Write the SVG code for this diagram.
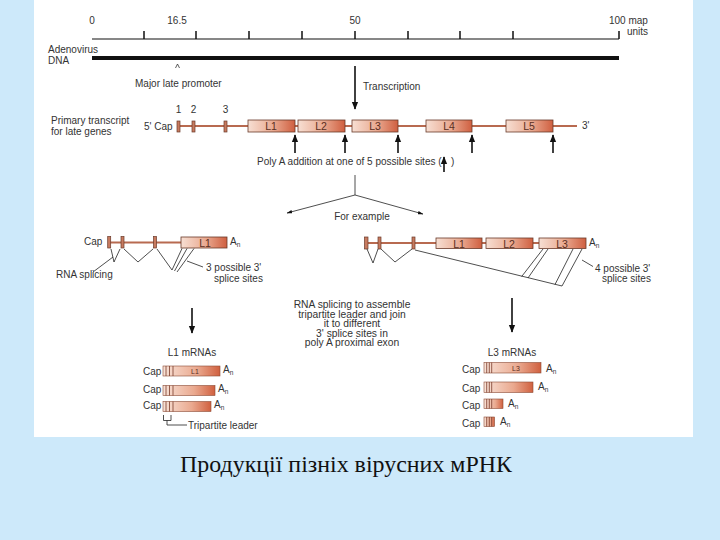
<svg xmlns="http://www.w3.org/2000/svg" width="720" height="540" viewBox="0 0 720 540">
<style>
.t{font-family:"Liberation Sans",Arial,sans-serif;font-size:10px;fill:#333}
.c{text-anchor:middle}
.n{font-size:10.3px}
.bl{font-family:"Liberation Sans",Arial,sans-serif;font-size:10.5px;fill:#5a2e22;text-anchor:middle}
.sl{font-family:"Liberation Sans",Arial,sans-serif;font-size:7px;fill:#5a2e22;text-anchor:middle}
.sub{font-size:6.5px}
.box{fill:url(#g);stroke:#6a3a2a;stroke-width:0.8}
.mb{fill:url(#g2);stroke:#8a4a35;stroke-width:0.6}
.ex{fill:#c77a5f;stroke:#6a3a2a;stroke-width:0.7}
.tr{stroke:#b86a50;stroke-width:2;fill:none}
.ln{stroke:#222;stroke-width:0.8;fill:none}
.ar{stroke:#111;stroke-width:1.6;fill:none}
.st{stroke:#7a3a28;stroke-width:0.8}
</style>
<defs>
<linearGradient id="g" x1="0" x2="1" y1="0" y2="0"><stop offset="0" stop-color="#f7dfd3"/><stop offset="0.55" stop-color="#e9a88f"/><stop offset="1" stop-color="#cf5f40"/></linearGradient>
<linearGradient id="g2" x1="0" x2="1" y1="0" y2="0"><stop offset="0" stop-color="#f8e2d7"/><stop offset="0.6" stop-color="#eaa98f"/><stop offset="1" stop-color="#d0603f"/></linearGradient>
<marker id="ah" viewBox="0 0 10 10" refX="9" refY="5" markerWidth="5" markerHeight="5" orient="auto"><path d="M0,1 L10,5 L0,9 z" fill="#111"/></marker>
<marker id="ahs" viewBox="0 0 10 10" refX="9" refY="5" markerWidth="7" markerHeight="7" orient="auto"><path d="M0,2 L10,5 L0,8 z" fill="#111"/></marker>
</defs>
<rect width="720" height="540" fill="#cde9fa"/>
<rect x="34" y="0" width="659" height="437" fill="#fff"/>

<g id="ruler">
<line x1="92" y1="39" x2="619" y2="39" stroke="#111" stroke-width="1.2"/>
<path d="M144,31V39M196,31V39M249,31V39M302,31V39M355,31V39M408,31V39M460,31V39M513,31V39M619,31V39" stroke="#111" stroke-width="1.5"/>
<text class="t c" x="92" y="24">0</text>
<text class="t c" x="177" y="24">16.5</text>
<text class="t c" x="355" y="24">50</text>
<text class="t" x="609" y="24">100 map</text>
<text class="t" x="627" y="35">units</text>
</g>

<g id="dna">
<rect x="92" y="56" width="527" height="4" fill="#111"/>
<text class="t" x="48" y="53">Adenovirus</text>
<text class="t" x="48" y="64">DNA</text>
</g>

<g id="promoter">
<path d="M175.5,68 L177.5,64 L179.5,68" stroke="#333" stroke-width="0.8" fill="none"/>
<text class="t" x="135" y="87">Major late promoter</text>
</g>

<g id="transcription-label">
<text class="t" x="363" y="90">Transcription</text>
</g>

<g id="primary-transcript">
<text class="t" x="51" y="124">Primary transcript</text>
<text class="t" x="51" y="135">for late genes</text>
<text class="t" x="144" y="130">5' Cap</text>
<line class="tr" x1="178" y1="126" x2="577" y2="126"/>
<rect class="ex" x="177" y="121" width="3" height="11"/>
<rect class="ex" x="192" y="121" width="3" height="11"/>
<rect class="ex" x="224" y="121" width="3" height="11"/>
<text class="t c" x="178.5" y="113">1</text>
<text class="t c" x="193.5" y="113">2</text>
<text class="t c" x="225.5" y="113">3</text>
<rect class="box" x="248" y="120" width="47" height="12"/>
<rect class="box" x="298" y="120" width="47" height="12"/>
<rect class="box" x="352" y="120" width="46" height="12"/>
<rect class="box" x="426" y="120" width="46" height="12"/>
<rect class="box" x="506" y="120" width="47" height="12"/>
<text class="bl" x="271" y="130">L1</text>
<text class="bl" x="321" y="130">L2</text>
<text class="bl" x="375" y="130">L3</text>
<text class="bl" x="449" y="130">L4</text>
<text class="bl" x="529" y="130">L5</text>
<text class="t" x="582" y="129">3'</text>
</g>

<g id="polya-label">
<text class="t" x="257" y="165">Poly A addition at one of 5 possible sites (</text>
<text class="t" x="451" y="165">)</text>
<text class="t c" x="362" y="220">For example</text>
</g>

<g id="left-splice">
<text class="t" x="84" y="245">Cap</text>
<line class="tr" x1="108" y1="242.5" x2="181" y2="242.5"/>
<rect class="ex" x="107.7" y="236.5" width="3" height="11.5"/>
<rect class="ex" x="121" y="236.5" width="3" height="11.5"/>
<rect class="ex" x="153.5" y="236.5" width="3" height="11.5"/>
<rect class="box" x="181" y="237" width="46" height="11"/>
<text class="bl" x="205" y="246.5">L1</text>
<text class="t" x="230" y="245">A<tspan class="sub" dy="2">n</tspan></text>
<polyline class="ln" points="111,249 114,262 120,249"/>
<polyline class="ln" points="124,249 138,262 153,249"/>
<line class="ln" x1="157" y1="249" x2="172" y2="270"/>
<line class="ln" x1="172" y1="270" x2="182" y2="248.5"/>
<line class="ln" x1="174.5" y1="271" x2="187" y2="248.5"/>
<line class="ln" x1="177" y1="272" x2="194" y2="248.5"/>
<line class="ln" x1="93" y1="272" x2="113" y2="257"/>
<line class="ln" x1="187" y1="261" x2="203" y2="267"/>
<text class="t" x="56" y="278">RNA splicing</text>
<text class="t" x="206" y="271">3 possible 3'</text>
<text class="t" x="214" y="282">splice sites</text>
</g>

<g id="right-splice">
<line class="tr" x1="365" y1="243" x2="539" y2="243"/>
<rect class="ex" x="364.5" y="237" width="3.5" height="12"/>
<rect class="ex" x="378" y="237" width="3" height="12"/>
<rect class="ex" x="412" y="237" width="3" height="12"/>
<rect class="box" x="436" y="238" width="46" height="10.5"/>
<rect class="box" x="486" y="238" width="47" height="10.5"/>
<rect class="box" x="539" y="238" width="47" height="10.5"/>
<text class="bl" x="459" y="247.5">L1</text>
<text class="bl" x="509" y="247.5">L2</text>
<text class="bl" x="562" y="247.5">L3</text>
<text class="t" x="589" y="246">A<tspan class="sub" dy="2">n</tspan></text>
<polyline class="ln" points="367,249 373,263 378,249"/>
<polyline class="ln" points="381,249 395,262 412,249"/>
<line class="ln" x1="415" y1="250" x2="562" y2="286"/>
<line class="ln" x1="521.7" y1="276.5" x2="543" y2="249"/>
<line class="ln" x1="528" y1="278" x2="548" y2="249"/>
<line class="ln" x1="555" y1="284.5" x2="573" y2="249"/>
<line class="ln" x1="562" y1="286" x2="582" y2="249"/>
<line class="ln" x1="582" y1="260" x2="593" y2="266.5"/>
<text class="t" x="595" y="272">4 possible 3'</text>
<text class="t" x="602" y="282">splice sites</text>
</g>

<g id="center-note">
<text class="t c n" x="352" y="308">RNA splicing to assemble</text>
<text class="t c n" x="352" y="317.5">tripartite leader and join</text>
<text class="t c n" x="352" y="327">it to different</text>
<text class="t c n" x="352" y="336.5">3' splice sites in</text>
<text class="t c n" x="352" y="346">poly A proximal exon</text>
</g>

<g id="l1-mrnas">
<text class="t c" x="192" y="356">L1 mRNAs</text>
<text class="t" x="143" y="375">Cap</text>
<rect class="mb" x="163" y="366" width="57" height="10"/>
<path class="st" d="M166,366V376M169.5,366V376M173,366V376"/>
<text class="sl" x="195" y="374">L1</text>
<text class="t" x="223" y="373">A<tspan class="sub" dy="2">n</tspan></text>
<text class="t" x="143" y="393">Cap</text>
<rect class="mb" x="163" y="385.5" width="52" height="10"/>
<path class="st" d="M166,385.5V395.5M169.5,385.5V395.5M173,385.5V395.5"/>
<text class="t" x="218" y="392">A<tspan class="sub" dy="2">n</tspan></text>
<text class="t" x="143" y="409">Cap</text>
<rect class="mb" x="163" y="401.5" width="48" height="10"/>
<path class="st" d="M166,401.5V411.5M169.5,401.5V411.5M173,401.5V411.5"/>
<text class="t" x="214" y="408">A<tspan class="sub" dy="2">n</tspan></text>
<path class="ln" d="M163.5,415V420.5H171V415M167,420.5V425H187"/>
<text class="t" x="188" y="428.5">Tripartite leader</text>
</g>

<g id="l3-mrnas">
<text class="t c" x="512" y="356">L3 mRNAs</text>
<text class="t" x="462" y="373">Cap</text>
<rect class="mb" x="484" y="362.5" width="57" height="10.5"/>
<path class="st" d="M486.7,362.5V373M489.3,362.5V373M491.7,362.5V373"/>
<text class="sl" x="516" y="371">L3</text>
<text class="t" x="546" y="372">A<tspan class="sub" dy="2">n</tspan></text>
<text class="t" x="462" y="391.5">Cap</text>
<rect class="mb" x="484" y="382" width="49" height="10.5"/>
<path class="st" d="M486.7,382V392.5M489.3,382V392.5M491.7,382V392.5"/>
<text class="t" x="538" y="390">A<tspan class="sub" dy="2">n</tspan></text>
<text class="t" x="462" y="408.5">Cap</text>
<rect class="mb" x="484" y="399" width="19" height="9.5"/>
<path class="st" d="M486.7,399V408.5M489.3,399V408.5M491.7,399V408.5"/>
<text class="t" x="508" y="407">A<tspan class="sub" dy="2">n</tspan></text>
<text class="t" x="462" y="426.5">Cap</text>
<rect class="mb" x="484" y="417" width="10.5" height="9.5"/>
<path class="st" d="M486.7,417V426.5M489.3,417V426.5M491.7,417V426.5"/>
<text class="t" x="500" y="425">A<tspan class="sub" dy="2">n</tspan></text>
</g>

<g id="connectors">
<line class="ar" x1="355" y1="66" x2="355" y2="109" marker-end="url(#ah)"/>
<line class="ar" x1="295" y1="153" x2="295" y2="135" marker-end="url(#ah)"/>
<line class="ar" x1="345" y1="153" x2="345" y2="135" marker-end="url(#ah)"/>
<line class="ar" x1="398" y1="153" x2="398" y2="135" marker-end="url(#ah)"/>
<line class="ar" x1="472" y1="153" x2="472" y2="135" marker-end="url(#ah)"/>
<line class="ar" x1="553" y1="153" x2="553" y2="135" marker-end="url(#ah)"/>
<line class="ar" x1="444" y1="172" x2="444" y2="157" stroke-width="1.2" marker-end="url(#ah)"/>
<line class="ln" x1="355" y1="175" x2="355" y2="195"/>
<line class="ln" x1="355" y1="195" x2="287" y2="213" marker-end="url(#ahs)"/>
<line class="ln" x1="355" y1="195" x2="423" y2="214" marker-end="url(#ahs)"/>
<line class="ar" x1="192" y1="308" x2="192" y2="333" marker-end="url(#ah)"/>
<line class="ar" x1="512" y1="298" x2="512" y2="332" marker-end="url(#ah)"/>
</g>

<g id="caption">
<text x="346" y="472" text-anchor="middle" font-family="'Liberation Serif','Times New Roman',serif" font-size="23" textLength="332" lengthAdjust="spacingAndGlyphs" fill="#111">Продукції пізніх вірусних мРНК</text>
</g>
</svg>
